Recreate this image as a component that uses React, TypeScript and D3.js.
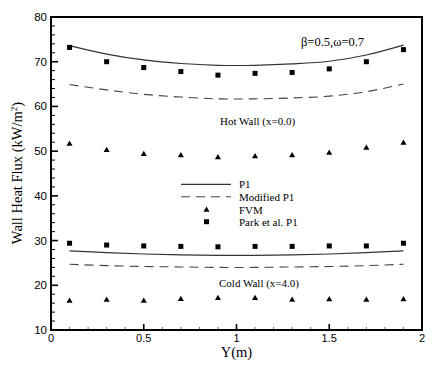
import React from "react";
import * as d3 from "d3";

const xs = [0.1, 0.3, 0.5, 0.7, 0.9, 1.1, 1.3, 1.5, 1.7, 1.9];
const hotP1 = [73.6, 71.7, 70.4, 69.6, 69.2, 69.2, 69.5, 70.1, 71.5, 73.7];
const hotModP1 = [64.9, 63.7, 62.7, 62.1, 61.7, 61.7, 61.9, 62.3, 63.3, 65.0];
const hotFVM = [51.6, 50.2, 49.3, 49.0, 48.6, 48.8, 49.0, 49.6, 50.7, 51.8];
const hotPark = [73.2, 70.0, 68.7, 67.8, 67.0, 67.4, 67.6, 68.4, 70.0, 72.7];
const coldP1 = [27.7, 27.3, 27.0, 26.8, 26.7, 26.7, 26.8, 27.0, 27.3, 27.7];
const coldModP1 = [24.7, 24.4, 24.2, 24.1, 24.0, 24.0, 24.1, 24.2, 24.4, 24.7];
const coldFVM = [16.5, 16.7, 16.5, 16.9, 17.1, 17.1, 16.7, 16.8, 16.7, 16.8];
const coldPark = [29.4, 29.0, 28.8, 28.7, 28.6, 28.7, 28.7, 28.8, 28.8, 29.4];

const xTickLabels = ["0", "0.5", "1", "1.5", "2"];
const yTickLabels = ["10", "20", "30", "40", "50", "60", "70", "80"];
const legendLabels = ["P1", "Modified P1", "FVM", "Park et al. P1"];

const W = 446, H = 380;
const L = 51, R = 422, T = 17, B = 330;

export default function App() {
  const x = d3.scaleLinear().domain([0, 2]).range([L, R]);
  const y = d3.scaleLinear().domain([10, 80]).range([B, T]);
  const line = (vals: number[]) =>
    d3.line<number>().x((_, i) => x(xs[i])).y((v) => y(v)).curve(d3.curveCatmullRom)(vals) || "";
  const tri = d3.symbol().type(d3.symbolTriangle).size(16)() || "";
  const serif = "'Liberation Serif', 'Times New Roman', serif";
  const sans = "'Liberation Sans', Arial, sans-serif";
  const yMinor = d3.range(10, 80.01, 2);
  const xMinor = d3.range(0, 2.001, 0.1);
  const sq = 5;
  const squares = (vals: number[]) =>
    vals.map((v, i) => (
      <rect key={i} x={x(xs[i]) - sq / 2} y={y(v) - sq / 2} width={sq} height={sq} fill="#000" />
    ));
  const tris = (vals: number[]) =>
    vals.map((v, i) => <path key={i} d={tri} transform={`translate(${x(xs[i])},${y(v)})`} fill="#000" />);
  const legY = [184.3, 196.7, 210, 221.7];
  return (
    <svg width={W} height={H} style={{ position: "absolute", left: 0, top: 0, background: "#fff" }}>
      <rect x={0} y={0} width={W} height={H} fill="#fff" />
      {yMinor.map((v) => {
        const major = Math.abs(v % 10) < 1e-6;
        return <line key={"ym" + v} x1={L} x2={L + (major ? 7 : 4)} y1={y(v)} y2={y(v)} stroke="#000" strokeWidth={major ? 1.6 : 1} />;
      })}
      {xMinor.map((v) => {
        const r = Math.round(v * 10) % 5;
        const major = r === 0;
        return <line key={"xm" + v} x1={x(v)} x2={x(v)} y1={B} y2={B - (major ? 6 : 3)} stroke={major ? "#000" : "#666"} strokeWidth={major ? 1.6 : 1} />;
      })}
      <rect x={L} y={T} width={R - L} height={B - T} fill="none" stroke="#000" strokeWidth={2} />
      {yTickLabels.map((t) => (
        <text key={"yl" + t} x={L - 4} y={y(+t) + 4} textAnchor="end" fontFamily={sans} fontSize={11.5} fill="#000">{t}</text>
      ))}
      {xTickLabels.map((t) => (
        <text key={"xl" + t} x={x(+t)} y={342} textAnchor="middle" fontFamily={sans} fontSize={11} fill="#000">{t}</text>
      ))}
      <text x={236.5} y={357} textAnchor="middle" fontFamily={serif} fontSize={14.5} fill="#000">Y(m)</text>
      <text transform="translate(22,173) rotate(-90)" textAnchor="middle" fontFamily={serif} fontSize={14.5} fill="#000">
        Wall Heat Flux (kW/m<tspan dy={-5} fontSize={9}>2</tspan><tspan dy={5}>)</tspan>
      </text>
      <path d={line(hotP1)} fill="none" stroke="#333" strokeWidth={1.2} />
      <path d={line(hotModP1)} fill="none" stroke="#444" strokeWidth={1.1} strokeDasharray="9,6" />
      <path d={line(coldP1)} fill="none" stroke="#333" strokeWidth={1.2} />
      <path d={line(coldModP1)} fill="none" stroke="#444" strokeWidth={1.1} strokeDasharray="9,6" />
      {squares(hotPark)}
      {squares(coldPark)}
      {tris(hotFVM)}
      {tris(coldFVM)}
      <text x={301} y={46} fontFamily={serif} fontSize={12.5} fill="#000">β=0.5,ω=0.7</text>
      <text x={220} y={125} fontFamily={serif} fontSize={11} fill="#000">Hot Wall (x=0.0)</text>
      <text x={219} y={286.5} fontFamily={serif} fontSize={11} fill="#000">Cold Wall (x=4.0)</text>
      <line x1={181} x2={231} y1={legY[0]} y2={legY[0]} stroke="#333" strokeWidth={1.2} />
      <line x1={181} x2={231} y1={legY[1]} y2={legY[1]} stroke="#444" strokeWidth={1.1} strokeDasharray="9,6" />
      <path d={tri} transform={`translate(206.5,${legY[2]})`} fill="#000" />
      <rect x={206.5 - sq / 2} y={legY[3] - sq / 2} width={sq} height={sq} fill="#000" />
      {legendLabels.map((t, i) => (
        <text key={t} x={239} y={legY[i] + 4} fontFamily={serif} fontSize={11} fill="#000">{t}</text>
      ))}
    </svg>
  );
}
